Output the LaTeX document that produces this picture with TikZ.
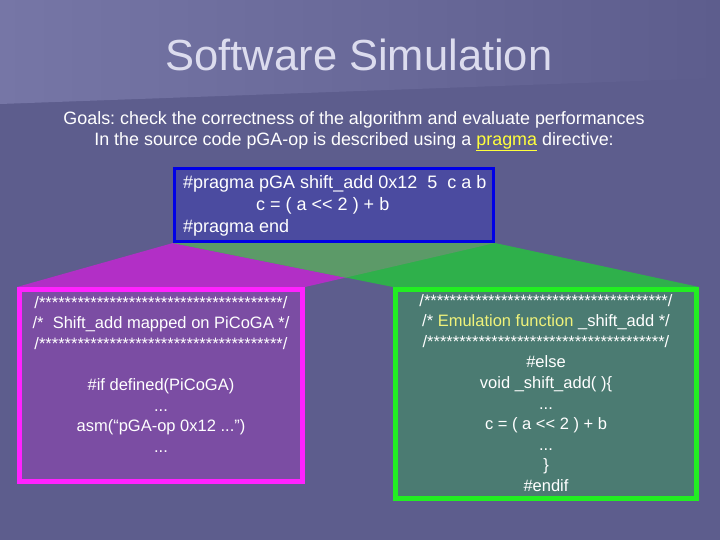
\documentclass[tikz,border=0pt]{standalone}
\usepackage{fontspec}
\setmainfont{Liberation Sans}
\usetikzlibrary{positioning,backgrounds}
\definecolor{slidebg}{HTML}{5D5D8D}
\definecolor{bandlight}{HTML}{7676A6}
\definecolor{titletxt}{HTML}{DCDCEE}
\definecolor{hilite}{HTML}{FFFF3C}
\definecolor{emulcol}{HTML}{F0F27A}
\definecolor{pragmafill}{HTML}{4B4BA0}
\definecolor{pragmaline}{HTML}{0000E6}
\definecolor{picofill}{HTML}{7B4DA3}
\definecolor{picoline}{HTML}{FF22FF}
\definecolor{picocone}{HTML}{B22FC6}
\definecolor{emulfill}{HTML}{4B7B72}
\definecolor{emulline}{HTML}{22EE22}
\definecolor{emulcone}{HTML}{2FB04B}
\definecolor{bothcone}{HTML}{5C9A68}
\frenchspacing

\begin{document}
\begin{tikzpicture}[x=1pt,y=-1pt,
  codebox/.style={line width=5pt,inner sep=0pt},
  codetxt/.style={text=white,inner sep=0pt,anchor=north,align=center,
    font=\fontsize{16.5}{20.6}\selectfont}]
\useasboundingbox (0,0) rectangle (720,540);
% title and goals
\node[font=\fontsize{43.5}{50}\selectfont,text=titletxt,anchor=base] (title) at (359,71) {Software Simulation};
\node[text=white,inner sep=0pt,anchor=north,align=center,font=\fontsize{17.9}{21}\selectfont] (goals) at (354,111)
  {Goals: check the correctness of the algorithm and evaluate performances\\
   In the source code pGA-op is described using a \textcolor{hilite}{\underline{pragma}} directive:};
% pragma box on top
\node[draw=pragmaline,fill=pragmafill,line width=3pt,inner sep=0pt,minimum width=319,minimum height=73] (pragma) at (334,205) {};
\node[text=white,inner sep=0pt,anchor=north west,align=left,font=\fontsize{18}{22}\selectfont] (pragmatxt) at (183,175)
  {\#pragma pGA shift\_add 0x12\ \ 5\ \ c a b\\
   \hspace{73pt}c = ( a <{}< 2 ) + b\\
   \#pragma end};
% the two views of the same operation
\node[codebox,draw=picoline,fill=picofill,minimum width=283,minimum height=192] (picoga) at (161,385.5) {};
\node[codebox,draw=emulline,fill=emulfill,minimum width=301,minimum height=209] (emul) at (546,394) {};
\node[codetxt] (picotxt) at (161,296)
  {/**************************************/\\
   /*\ \ Shift\_add mapped on PiCoGA */\\
   /**************************************/\\
   \mbox{}\\
   \#if defined(PiCoGA)\\
   ...\\
   asm(``pGA-op 0x12 ...'')\\
   ...};
\node[codetxt] (emultxt) at (546,294)
  {/**************************************/\\
   /* \textcolor{emulcol}{Emulation function} \_shift\_add */\\
   /*************************************/\\
   \#else\\
   void \_shift\_add( )\{\\
   ...\\
   c = (\ a <{}< 2\ ) + b\\
   ...\\
   \}\\
   \#endif};
% background: slide, title band and the two cones
\begin{scope}[on background layer]
\fill[slidebg] (0,0) rectangle (720,540);
\shade[left color=bandlight,right color=slidebg] (0,0) -- (720,0) -- (720,78) -- (0,104) -- cycle;
\fill[picocone] (pragma.south west) -- (pragma.south east) -- (picoga.north east) -- (picoga.north west) -- cycle;
\fill[emulcone] (pragma.south west) -- (pragma.south east) -- (emul.north east) -- (emul.north west) -- cycle;
\fill[bothcone] (pragma.south west) -- (pragma.south east)
  -- (intersection of pragma.south west--emul.north west and pragma.south east--picoga.north east) -- cycle;
\end{scope}
\end{tikzpicture}
\end{document}
